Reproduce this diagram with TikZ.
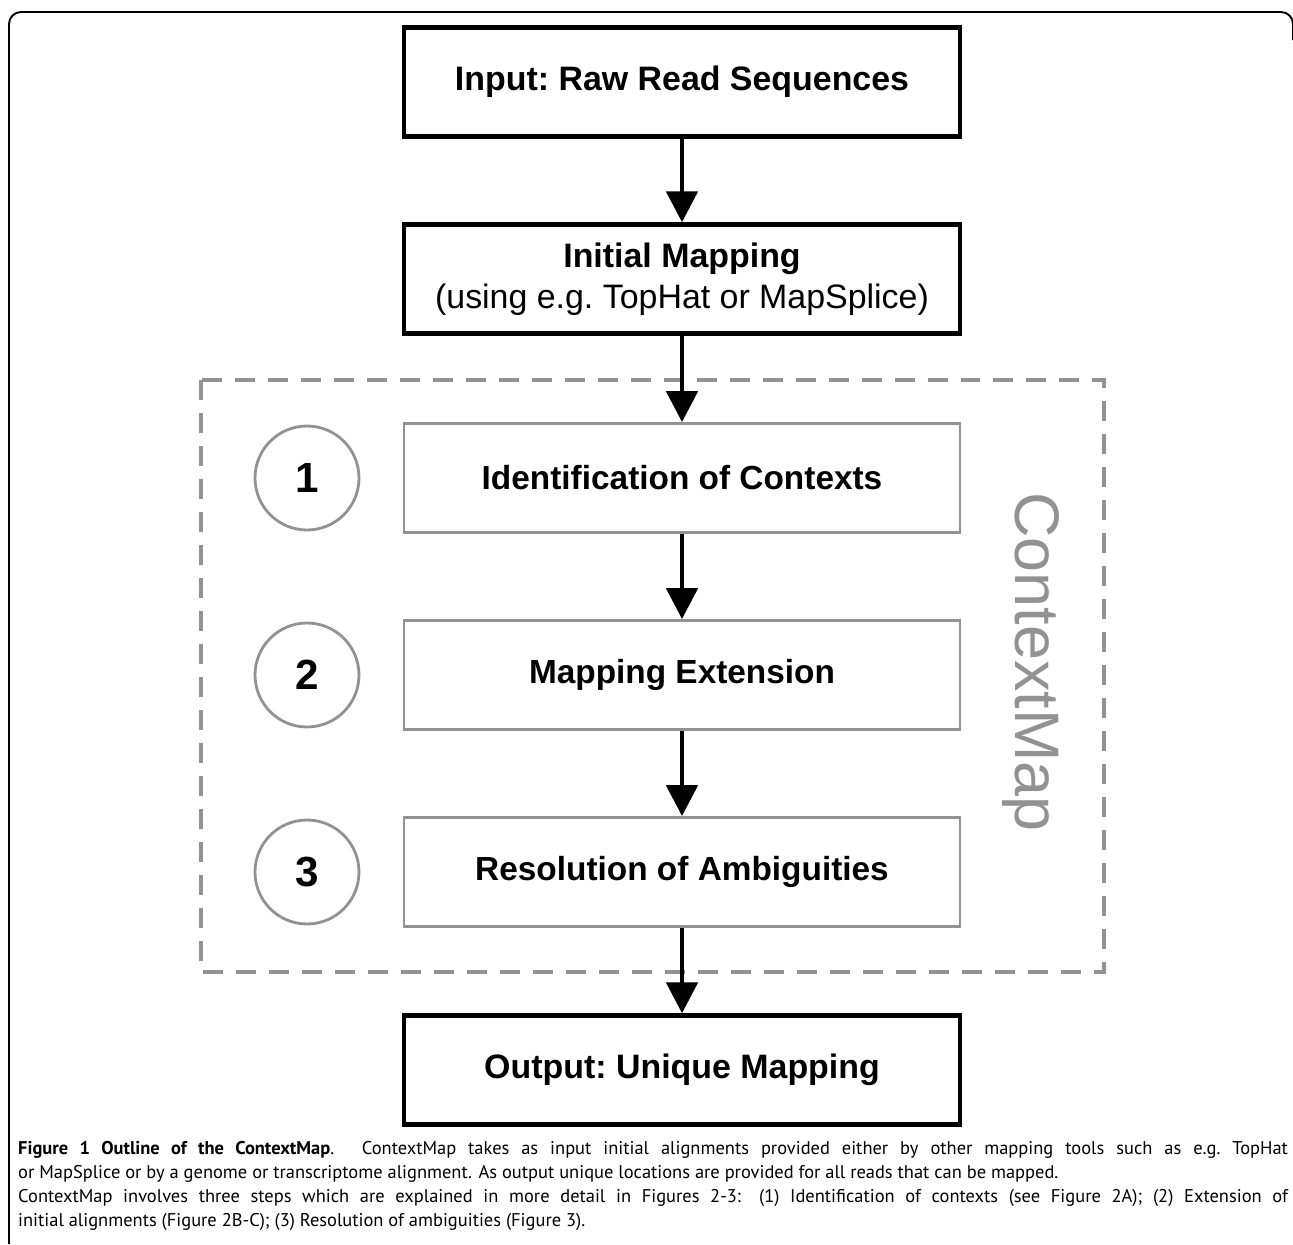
\documentclass[tikz,border=0pt]{standalone}
\usepackage{fontspec}
\usepackage{tikz}
\usetikzlibrary{arrows.meta}
\newfontfamily\arialfont{Liberation Sans}
\newfontfamily\captionfont{PT Sans}
\definecolor{framegray}{RGB}{146,146,146}

\begin{document}
\begin{tikzpicture}[x=0.02cm, y=-0.02cm,
    mainbox/.style={draw=black, line width=2.5pt, minimum width=11.12cm, minimum height=2.18cm,
        align=center, font=\arialfont\frenchspacing\fontsize{19.3}{23.5}\selectfont},
    stepbox/.style={draw=framegray, line width=1.6pt, minimum width=11.12cm, minimum height=2.18cm,
        font=\arialfont\bfseries\fontsize{19}{23}\selectfont},
    stepnum/.style={circle, draw=framegray, line width=1.6pt, minimum size=2.08cm,
        font=\arialfont\bfseries\fontsize{24}{28}\selectfont},
    flow/.style={line width=2.8pt, -{Triangle[width=0.62cm, length=0.62cm]}}]

    % Define the centre line and the rows of the steps
    \def\cx{682}   % centre of the flow
    \def\nx{307}   % centre of the step numbers
    \def\ya{478}   % step 1
    \def\yb{675}   % step 2
    \def\yc{872}   % step 3

    \useasboundingbox (0,0) rectangle (1293,1244);

    % Draw the outer frame
    \draw[line width=1.1pt, rounded corners=0.24cm] (9,1244) -- (9,12) -- (1293,12) -- (1293,40);

    % Draw the ContextMap frame
    \draw[framegray, line width=2pt, dash pattern=on 0.4cm off 0.26cm] (201,380) rectangle (1104,972);
    \node[rotate=-90, anchor=base, text=framegray, font=\arialfont\fontsize{35.8}{40}\selectfont]
        (ctxlabel) at (1015,662) {ContextMap};

    % Draw input and output
    \node[mainbox] (input) at (\cx,82) {\textbf{Input: Raw Read Sequences}};
    \node[mainbox] (initmap) at (\cx,279) {\textbf{Initial Mapping}\\(using e.g. TopHat or MapSplice)};
    \node[mainbox] (output) at (\cx,1070) {\textbf{Output: Unique Mapping}};

    % Draw the three steps
    \node[stepbox] (contexts) at (\cx,\ya) {Identification of Contexts};
    \node[stepbox] (extension) at (\cx,\yb) {Mapping Extension};
    \node[stepbox] (ambig) at (\cx,\yc) {Resolution of Ambiguities};
    \node[stepnum] (num1) at (\nx,\ya) {1};
    \node[stepnum] (num2) at (\nx,\yb) {2};
    \node[stepnum] (num3) at (\nx,\yc) {3};

    % Draw the flow
    \draw[flow] (input) -- (initmap);
    \draw[flow] (initmap) -- (contexts);
    \draw[flow] (contexts) -- (extension);
    \draw[flow] (extension) -- (ambig);
    \draw[flow] (ambig) -- (output);

    % Caption
    \node[anchor=north west, text width=25.4cm, align=justify,
        font=\captionfont\fontsize{10.5}{13.7}\selectfont] (caption) at (12,1135)
        {\textbf{Figure 1 Outline of the ContextMap}. ContextMap takes as input initial alignments provided either by other mapping tools such as e.g.\ TopHat\linebreak
        or MapSplice or by a genome or transcriptome alignment. As output unique locations are provided for all reads that can be mapped.\\
        ContextMap involves three steps which are explained in more detail in Figures 2-3: (1) Identification of contexts (see Figure 2A); (2) Extension of\linebreak
        initial alignments (Figure 2B-C); (3) Resolution of ambiguities (Figure 3).};

\end{tikzpicture}
\end{document}
